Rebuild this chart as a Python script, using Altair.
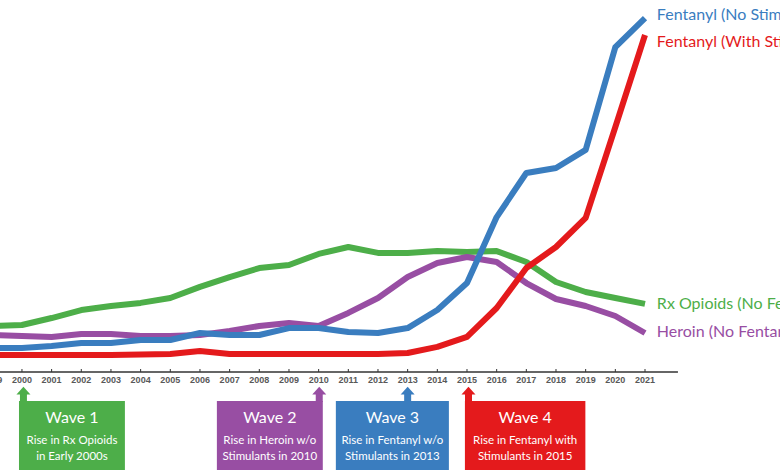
import altair as alt
import pandas as pd

years = list(range(1999, 2022))

fent_no_stim = [0.59, 0.59, 0.71, 0.88, 0.88, 1.06, 1.06, 1.47, 1.35, 1.35, 1.76, 1.76,
                1.53, 1.47, 1.76, 2.82, 4.41, 8.29, 10.88, 11.18, 12.24, 18.29, 20.0]
fent_with_stim = [0.18, 0.18, 0.18, 0.18, 0.18, 0.20, 0.24, 0.41, 0.24, 0.24, 0.24, 0.24,
                  0.24, 0.24, 0.29, 0.65, 1.24, 2.94, 5.29, 6.53, 8.24, 13.59, 19.0]
rx_opioids = [1.88, 1.94, 2.35, 2.82, 3.06, 3.24, 3.53, 4.18, 4.76, 5.29, 5.47, 6.12,
              6.53, 6.18, 6.18, 6.29, 6.24, 6.29, 5.65, 4.47, 3.88, 3.53, 3.18]
heroin = [1.35, 1.29, 1.24, 1.41, 1.41, 1.29, 1.29, 1.35, 1.59, 1.88, 2.06, 1.88,
          2.65, 3.53, 4.76, 5.59, 5.94, 5.65, 4.41, 3.47, 3.06, 2.47, 1.47]

series_names = ["Rx Opioids (No Fentanyl)", "Heroin (No Fentanyl)",
                "Fentanyl (No Stimulants)", "Fentanyl (With Stimulants)"]
series_values = [rx_opioids, heroin, fent_no_stim, fent_with_stim]
line_colors = ["#4dae49", "#984ea3", "#3a7dbf", "#e41a1c"]
label_colors = ["#5fb65b", "#9b55a6", "#4a86c3", "#e3262a"]
label_values = [3.18, 1.53, 20.18, 18.59]
label_year = 2021.40

wave_titles = ["Wave 1", "Wave 2", "Wave 3", "Wave 4"]
wave_line1 = ["Rise in Rx Opioids", "Rise in Heroin w/o", "Rise in Fentanyl w/o", "Rise in Fentanyl with"]
wave_line2 = ["in Early 2000s", "Stimulants in 2010", "Stimulants in 2013", "Stimulants in 2015"]
wave_start = [1999.90, 2006.57, 2010.58, 2014.93]
wave_end = [2003.47, 2010.14, 2014.39, 2018.99]
wave_arrow_year = [2000.05, 2010.02, 2013.0, 2015.05]
wave_colors = ["#4dae49", "#984ea3", "#3a7dbf", "#e41a1c"]

axis_start = 1998.5
axis_end = 2022.11

# ---- tables ----
rows = []
for name, vals in zip(series_names, series_values):
    for yr, v in zip(years, vals):
        rows.append({"series": name, "year": yr, "value": v})
df = pd.DataFrame(rows)

lab_df = pd.DataFrame({"series": series_names, "year": [label_year] * 4, "value": label_values})

wave_df = pd.DataFrame({
    "wave": wave_titles,
    "line1": wave_line1,
    "line2": wave_line2,
    "x0": wave_start,
    "x1": wave_end,
    "xc": [(a + b) / 2 for a, b in zip(wave_start, wave_end)],
    "xa": wave_arrow_year,
})

axis_df = pd.DataFrame({"x0": [axis_start], "x1": [axis_end]})
tick_df = pd.DataFrame({"year": years, "label": [str(y) for y in years]})

xscale = alt.Scale(domain=[1999.26, 2025.55], nice=False, zero=False)
yscale = alt.Scale(domain=[-6.59, 21.06], nice=False, zero=False)
series_scale = alt.Scale(domain=series_names, range=line_colors)
label_scale = alt.Scale(domain=series_names, range=label_colors)
wave_scale = alt.Scale(domain=wave_titles, range=wave_colors)

base_x = alt.X("year:Q", scale=xscale, axis=None)

lines = alt.Chart(df).mark_line(strokeWidth=6, strokeCap="butt", strokeJoin="round").encode(
    x=base_x,
    y=alt.Y("value:Q", scale=yscale, axis=None),
    color=alt.Color("series:N", scale=series_scale, legend=None),
    order=alt.Order("year:Q"),
)

labels = alt.Chart(lab_df).mark_text(align="left", baseline="middle", font="Lato", fontSize=16).encode(
    x=base_x,
    y=alt.Y("value:Q", scale=yscale, axis=None),
    text="series:N",
    color=alt.Color("series:N", scale=label_scale, legend=None),
)

axis_line = alt.Chart(axis_df).mark_rule(color="#333333", strokeWidth=1.5).encode(
    x=alt.X("x0:Q", scale=xscale, axis=None),
    x2="x1:Q",
    y=alt.value(372),
)

ticks = alt.Chart(tick_df).mark_rule(color="#333333", strokeWidth=1).encode(
    x=base_x,
    y=alt.value(369),
    y2=alt.value(372),
)

year_labels = alt.Chart(tick_df).mark_text(
    font="Liberation Sans", fontSize=9, fontWeight="bold", color="#595959", baseline="middle"
).encode(
    x=base_x,
    y=alt.value(380),
    text="label:N",
)

boxes = alt.Chart(wave_df).mark_rect().encode(
    x=alt.X("x0:Q", scale=xscale, axis=None),
    x2="x1:Q",
    y=alt.value(401),
    y2=alt.value(470),
    color=alt.Color("wave:N", scale=wave_scale, legend=None),
)

stems = alt.Chart(wave_df).mark_rule(strokeWidth=7).encode(
    x=alt.X("xa:Q", scale=xscale, axis=None),
    y=alt.value(393),
    y2=alt.value(402),
    color=alt.Color("wave:N", scale=wave_scale, legend=None),
)

heads = alt.Chart(wave_df).mark_point(
    shape="M-1,0.5L0,-0.62L1,0.5Z", filled=True, size=196, opacity=1, strokeWidth=0
).encode(
    x=alt.X("xa:Q", scale=xscale, axis=None),
    y=alt.value(391),
    color=alt.Color("wave:N", scale=wave_scale, legend=None),
)

titles = alt.Chart(wave_df).mark_text(font="Lato", fontSize=16, color="white", baseline="middle").encode(
    x=alt.X("xc:Q", scale=xscale, axis=None), y=alt.value(418), text="wave:N")
sub1 = alt.Chart(wave_df).mark_text(font="Lato", fontSize=11.5, color="white", baseline="middle").encode(
    x=alt.X("xc:Q", scale=xscale, axis=None), y=alt.value(441), text="line1:N")
sub2 = alt.Chart(wave_df).mark_text(font="Lato", fontSize=11.5, color="white", baseline="middle").encode(
    x=alt.X("xc:Q", scale=xscale, axis=None), y=alt.value(457), text="line2:N")

chart = alt.layer(
    axis_line, ticks, year_labels, lines, labels, stems, heads, boxes, titles, sub1, sub2
).properties(
    width=780, height=470, padding=0,
    autosize=alt.AutoSizeParams(type="none"),
    background="white",
).configure_view(stroke=None)

chart.save("out.html", embed_options={"renderer": "svg", "actions": False})
